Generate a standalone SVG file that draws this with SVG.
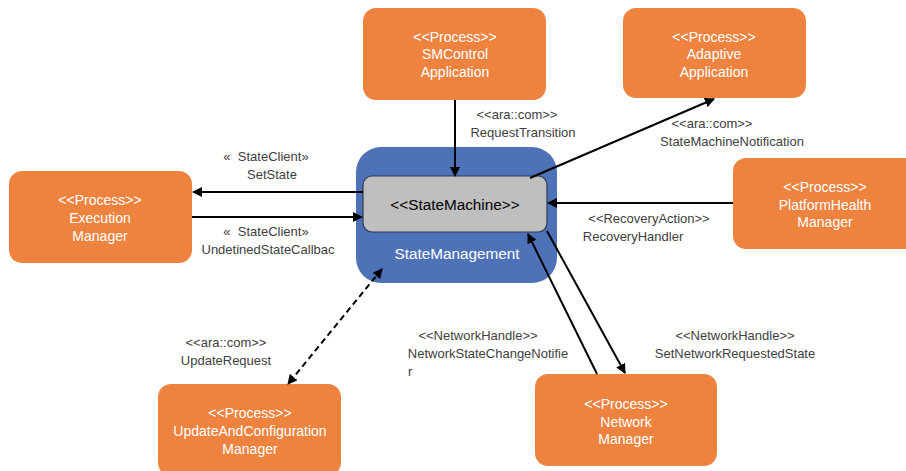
<svg xmlns="http://www.w3.org/2000/svg" width="906" height="471" viewBox="0 0 906 471">
<defs>
<style>
.proc{fill:#EE8340;stroke:none}
.pt{font-family:"Liberation Sans",Arial,sans-serif;font-size:14px;fill:#fff;text-anchor:middle}
.lbl{font-family:"Liberation Sans",Arial,sans-serif;font-size:13px;fill:#404040;text-anchor:middle}
.c{stroke:#000;stroke-width:2;fill:none;marker-end:url(#ah)}
</style>
<marker id="ah" viewBox="0 0 10 10" refX="9" refY="5" markerWidth="5" markerHeight="5" orient="auto-start-reverse"><path d="M0,0 L10,5 L0,10 z" fill="#000"/></marker>
</defs>
<rect width="906" height="471" fill="#fff"/>
<g id="state-management">
<rect x="356" y="147" width="201" height="136" rx="25" fill="#4E72B8"/>
<rect x="363" y="176" width="184" height="56" rx="9" fill="#BFBFBF" stroke="#2F3B52" stroke-width="1.2"/>
<text x="455" y="210" font-family="Liberation Sans,Arial,sans-serif" font-size="15.3" text-anchor="middle" fill="#000">&lt;&lt;StateMachine&gt;&gt;</text>
<text x="457" y="259" font-family="Liberation Sans,Arial,sans-serif" font-size="15.3" text-anchor="middle" fill="#fff">StateManagement</text>
</g>
<g id="smcontrol">
<rect class="proc" x="363" y="8" width="183" height="92" rx="13"/>
<text class="pt" x="455" y="42">&lt;&lt;Process&gt;&gt;</text>
<text class="pt" x="455" y="59">SMControl</text>
<text class="pt" x="455" y="77">Application</text>
</g>
<g id="adaptive">
<rect class="proc" x="623" y="8" width="183" height="90" rx="13"/>
<text class="pt" x="714" y="42">&lt;&lt;Process&gt;&gt;</text>
<text class="pt" x="714" y="59">Adaptive</text>
<text class="pt" x="714" y="77">Application</text>
</g>
<g id="execution">
<rect class="proc" x="9" y="171" width="183" height="92" rx="13"/>
<text class="pt" x="100" y="205">&lt;&lt;Process&gt;&gt;</text>
<text class="pt" x="100" y="223">Execution</text>
<text class="pt" x="100" y="241">Manager</text>
</g>
<g id="platformhealth">
<rect class="proc" x="733" y="158" width="186" height="91" rx="13"/>
<text class="pt" x="825" y="192">&lt;&lt;Process&gt;&gt;</text>
<text class="pt" x="825" y="210">PlatformHealth</text>
<text class="pt" x="825" y="227">Manager</text>
</g>
<g id="update">
<rect class="proc" x="158" y="384" width="183" height="92" rx="13"/>
<text class="pt" x="250" y="418">&lt;&lt;Process&gt;&gt;</text>
<text class="pt" x="250" y="436">UpdateAndConfiguration</text>
<text class="pt" x="250" y="454">Manager</text>
</g>
<g id="network">
<rect class="proc" x="535" y="374" width="182" height="92" rx="13"/>
<text class="pt" x="626" y="409">&lt;&lt;Process&gt;&gt;</text>
<text class="pt" x="626" y="427">Network</text>
<text class="pt" x="626" y="444">Manager</text>
</g>
<g id="connectors">
<line class="c" x1="455" y1="100" x2="455" y2="176"/>
<line class="c" x1="530" y1="178" x2="714" y2="99"/>
<line class="c" x1="733" y1="203" x2="548" y2="203"/>
<line class="c" x1="363" y1="192" x2="193" y2="192"/>
<line class="c" x1="192" y1="217" x2="362" y2="217"/>
<line class="c" x1="597" y1="374" x2="528" y2="234" />
<line class="c" x1="547" y1="231" x2="625" y2="373"/>
<line x1="382" y1="269" x2="288" y2="384" stroke="#000" stroke-width="2" stroke-dasharray="6,4" marker-start="url(#ah)" marker-end="url(#ah)"/>
</g>
<g id="labels">
<text class="lbl" x="517" y="119">&lt;&lt;ara::com&gt;&gt;</text>
<text class="lbl" x="523" y="137">RequestTransition</text>
<text class="lbl" x="712" y="128">&lt;&lt;ara::com&gt;&gt;</text>
<text class="lbl" x="732" y="146">StateMachineNotification</text>
<text class="lbl" x="266" y="161" xml:space="preserve">«  StateClient»</text>
<text class="lbl" x="272" y="179">SetState</text>
<text class="lbl" x="266" y="236" xml:space="preserve">«  StateClient»</text>
<text class="lbl" x="268" y="254">UndetinedStateCallbac</text>
<text class="lbl" x="649" y="223">&lt;&lt;RecoveryAction&gt;&gt;</text>
<text class="lbl" x="633" y="241">RecoveryHandler</text>
<text class="lbl" x="226" y="347">&lt;&lt;ara::com&gt;&gt;</text>
<text class="lbl" x="226" y="365">UpdateRequest</text>
<text class="lbl" x="478" y="340">&lt;&lt;NetworkHandle&gt;&gt;</text>
<text class="lbl" x="488" y="358">NetworkStateChangeNotifie</text>
<text class="lbl" x="408" y="376" style="text-anchor:start">r</text>
<text class="lbl" x="735" y="340">&lt;&lt;NetworkHandle&gt;&gt;</text>
<text class="lbl" x="735" y="358">SetNetworkRequestedState</text>
</g>
</svg>
